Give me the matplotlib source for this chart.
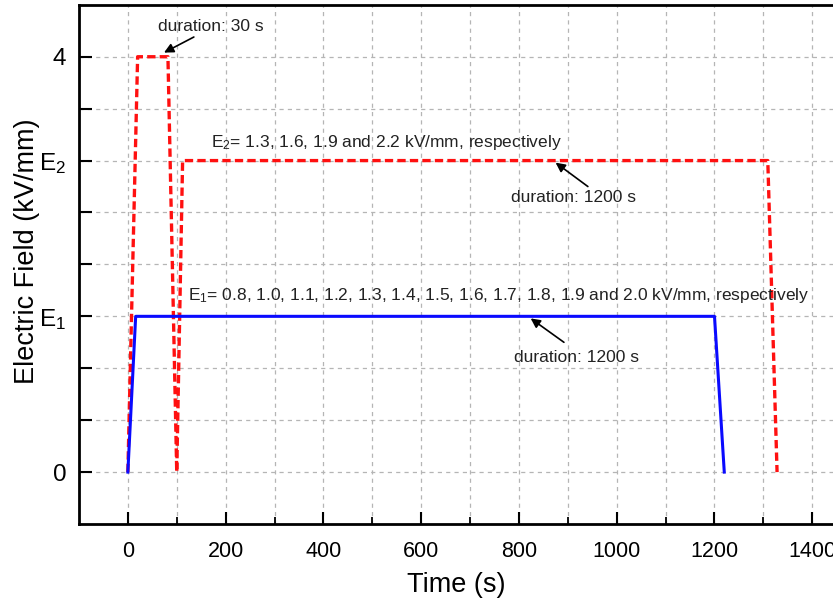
import matplotlib
matplotlib.use("Agg")
import matplotlib.pyplot as plt

plt.rcParams['font.family'] = ['Liberation Sans', 'DejaVu Sans']
plt.rcParams['mathtext.default'] = 'regular'
plt.rcParams['lines.scale_dashes'] = False

# Pulse sequences: time (s) vs. schematic field level (kV/mm)
blue_t = [0, 16, 1200, 1220]
blue_e = [0, 1.5, 1.5, 0]
red_t = [0, 20, 82, 100, 112, 1309, 1328]
red_e = [0, 4, 4, 0, 3, 3, 0]

# Axis ticks
x_major = [0, 200, 400, 600, 800, 1000, 1200, 1400]
x_minor = [100, 300, 500, 700, 900, 1100, 1300]
y_ticks = [0, 0.5, 1.0, 1.5, 2.0, 2.5, 3.0, 3.5, 4.0]
y_labels = ['0', '', '', 'E$_1$', '', '', 'E$_2$', '', '4']

fig = plt.figure(figsize=(8.33, 6.03), dpi=100)
ax = fig.add_axes([0.0948, 0.131, 0.939, 0.861])
ax.set_xlim(-100, 1500)
ax.set_ylim(-0.5, 4.5)

grid_kw = dict(color='#b5b5b5', lw=0.9, dashes=(3.0, 3.0), zorder=0)
for xv in x_major + x_minor:
    ax.axvline(xv, **grid_kw)
for yv in y_ticks:
    ax.axhline(yv, **grid_kw)

ax.plot(red_t, red_e, color='#ff1010', lw=2.4, dashes=(6.0, 3.0), zorder=3)
ax.plot(blue_t, blue_e, color='#0a0aff', lw=2.2, zorder=4)

ax.set_xticks(x_major)
ax.set_xticks(x_minor, minor=True)
ax.set_yticks(y_ticks)
ax.set_yticklabels(y_labels)
ax.tick_params(axis='x', which='major', direction='in', length=9, width=1.5,
               labelsize=15.5, pad=12)
ax.tick_params(axis='x', which='minor', direction='in', length=5, width=1.3)
ax.tick_params(axis='y', which='major', direction='in', length=9, width=1.5,
               labelsize=17.5, pad=9)

for side in ['left', 'bottom', 'top']:
    ax.spines[side].set_linewidth(2.0)
ax.spines['right'].set_visible(False)

ax.set_xlabel('Time (s)', fontsize=19.5)
ax.xaxis.set_label_coords(0.482, -0.093)
ax.set_ylabel('Electric Field (kV/mm)', fontsize=19.5)
ax.yaxis.set_label_coords(-0.050, 0.525)

txt_kw = dict(fontsize=12.5, color='#222222')
ax.text(61, 4.25, 'duration: 30 s', va='baseline', ha='left', **txt_kw)
ax.text(170, 3.135, 'E$_2$= 1.3, 1.6, 1.9 and 2.2 kV/mm, respectively',
        va='baseline', ha='left', **txt_kw)
ax.text(783, 2.60, 'duration: 1200 s', va='baseline', ha='left', **txt_kw)
ax.text(123, 1.66, 'E$_1$= 0.8, 1.0, 1.1, 1.2, 1.3, 1.4, 1.5, 1.6, 1.7, 1.8, 1.9 and 2.0 kV/mm, respectively',
        va='baseline', ha='left', **txt_kw)
ax.text(789, 1.06, 'duration: 1200 s', va='baseline', ha='left', **txt_kw)

arrow_kw = dict(arrowstyle='-|>', color='black', lw=1.2, mutation_scale=14,
                shrinkA=0, shrinkB=0)
ax.annotate('', xy=(74, 4.04), xytext=(135, 4.19), arrowprops=arrow_kw)
ax.annotate('', xy=(875, 2.98), xytext=(941, 2.75), arrowprops=arrow_kw)
ax.annotate('', xy=(824, 1.48), xytext=(892, 1.25), arrowprops=arrow_kw)

fig.savefig('out.png', dpi=100)
